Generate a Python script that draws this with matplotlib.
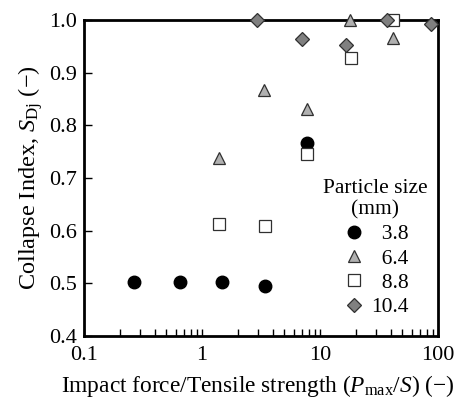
import matplotlib
matplotlib.use("Agg")
import matplotlib.pyplot as plt
from matplotlib.ticker import FixedLocator, FixedFormatter, LogLocator, NullFormatter

plt.rcParams['font.family'] = ['Liberation Serif', 'DejaVu Serif']
plt.rcParams['mathtext.fontset'] = 'custom'
plt.rcParams['mathtext.rm'] = 'Liberation Serif'
plt.rcParams['mathtext.it'] = 'Liberation Serif:italic'

# data
x_38 = [0.265, 0.65, 1.48, 3.4, 7.77]
y_38 = [0.503, 0.503, 0.503, 0.495, 0.767]
x_64 = [1.39, 3.35, 7.77, 17.9, 41.5]
y_64 = [0.738, 0.867, 0.831, 1.0, 0.965]
x_88 = [1.39, 3.4, 7.77, 18.2, 41.5]
y_88 = [0.612, 0.608, 0.746, 0.928, 1.0]
x_104 = [2.92, 7.03, 16.6, 37.0, 87.0]
y_104 = [1.0, 0.964, 0.953, 1.0, 0.993]
labels = ['  3.8', '  6.4', '  8.8', '10.4']
xticks = [0.1, 1, 10, 100]
xticklabels = ['0.1', '1', '10', '100']
yticks = [0.4, 0.5, 0.6, 0.7, 0.8, 0.9, 1.0]

fig = plt.figure(figsize=(4.58, 4.0), dpi=100)
ax = fig.add_axes([0.1834, 0.16, 0.7729, 0.79])

ax.plot(x_38, y_38, 'o', ms=9, mfc='black', mec='black', ls='none', label=labels[0], clip_on=False, zorder=3)
ax.plot(x_64, y_64, '^', ms=9, mfc='#b0b0b0', mec='#303030', mew=0.9, ls='none', label=labels[1], clip_on=False, zorder=3)
ax.plot(x_88, y_88, 's', ms=8.5, mfc='white', mec='#303030', mew=0.9, ls='none', label=labels[2], clip_on=False, zorder=3)
ax.plot(x_104, y_104, 'D', ms=7, mfc='#808080', mec='#303030', mew=0.9, ls='none', label=labels[3], clip_on=False, zorder=4)

ax.set_xscale('log')
ax.set_xlim(0.1, 100)
ax.set_ylim(0.4, 1.0)
ax.xaxis.set_major_locator(FixedLocator(xticks))
ax.xaxis.set_major_formatter(FixedFormatter(xticklabels))
ax.xaxis.set_minor_locator(LogLocator(base=10, subs=range(2, 10)))
ax.xaxis.set_minor_formatter(NullFormatter())
ax.set_yticks(yticks)
ax.set_yticklabels([f'{v:.1f}' for v in yticks])

for s in ax.spines.values():
    s.set_linewidth(2)
ax.tick_params(axis='x', which='both', direction='in', length=5, width=1, labelsize=16, pad=7)
ax.tick_params(axis='y', which='both', direction='in', length=6, width=1, labelsize=16, pad=5)

ax.set_xlabel(r'Impact force/Tensile strength ($P_{\mathrm{max}}$/$S$) (−)', fontsize=16.8, labelpad=6)
ax.xaxis.label.set_x(0.49)
ax.set_ylabel(r'Collapse Index, $S_{\mathrm{Dj}}$ (−)', fontsize=17.5, labelpad=3)

leg = ax.legend(title='Particle size\n(mm)', loc='lower right', bbox_to_anchor=(1.0, 0.025),
                frameon=False, fontsize=15.5, title_fontsize=15.5, handletextpad=0.2,
                labelspacing=0.2, borderaxespad=0.1, handlelength=1.2)
leg.get_title().set_multialignment('center')

fig.savefig('out.png', dpi=100)
